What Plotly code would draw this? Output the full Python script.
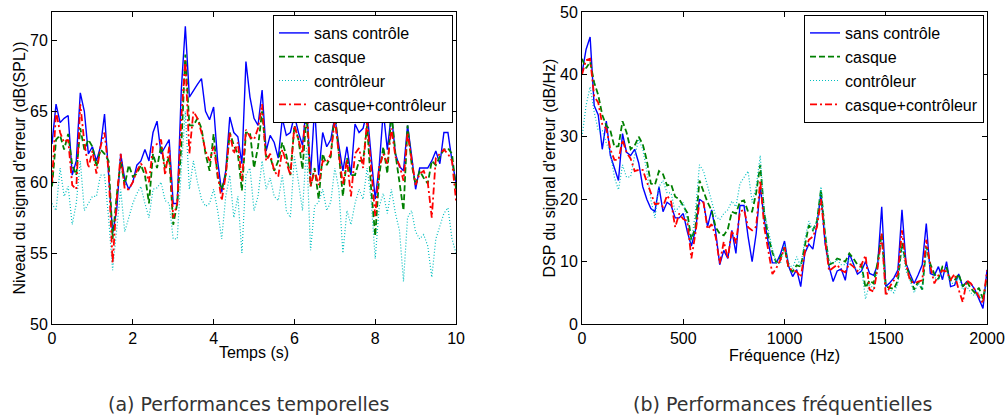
import plotly.graph_objects as go

# Time-domain data (left plot), t = 0..10 s, step 0.1
t = [round(i * 0.1, 1) for i in range(101)]
t_sans = [62.7, 65.5, 64.2, 64.5, 64.7, 60.5, 61.5, 66.3, 65.0, 62.0,
          62.5, 61.5, 62.5, 64.8, 60.6, 56.4, 58.0, 62.0, 60.2, 59.5,
          60.0, 61.2, 61.5, 62.3, 61.5, 63.5, 64.3, 62.0, 62.5, 63.0,
          58.5, 58.5, 66.5, 71.0, 66.0, 66.5, 66.9, 67.3, 65.0, 64.4,
          65.3, 61.5, 59.3, 60.8, 64.6, 63.5, 63.2, 61.3, 68.5, 66.0,
          64.5, 64.0, 66.5, 62.2, 63.3, 62.8, 61.7, 64.5, 63.3, 63.5,
          64.7, 63.5, 62.6, 65.5, 60.5, 65.3, 60.5, 63.5, 62.5, 63.0,
          64.6, 62.6, 60.8, 62.5, 60.5, 64.1, 63.5, 63.8, 65.0, 61.8,
          58.8, 61.2, 65.0, 62.3, 64.8, 62.0, 61.1, 60.8, 64.0, 61.9,
          59.5, 61.0, 61.0, 61.0, 61.5, 62.2, 61.3, 63.5, 63.5, 61.5, 60.0]
t_casque = [59.7, 63.0, 63.3, 62.3, 63.4, 61.2, 60.5, 63.8, 62.3, 63.0,
            62.5, 61.1, 62.3, 62.0, 61.5, 56.0, 59.0, 61.5, 59.8, 61.2,
            60.4, 60.6, 61.2, 60.5, 58.5, 62.0, 61.0, 62.6, 61.0, 61.8,
            57.0, 58.5, 62.5, 69.0, 64.0, 64.0, 64.5, 63.8, 62.0, 60.8,
            63.4, 60.3, 59.5, 60.5, 63.5, 62.6, 62.0, 59.4, 63.5, 63.5,
            61.0, 62.5, 65.0, 61.8, 61.8, 60.8, 61.5, 62.8, 61.9, 60.5,
            64.0, 63.0, 60.9, 64.8, 59.7, 61.0, 58.8, 62.0, 61.2, 61.8,
            65.0, 62.0, 59.0, 61.7, 60.5, 60.5, 61.5, 61.5, 64.0, 59.5,
            56.2, 60.5, 62.5, 60.6, 65.0, 62.0, 60.0, 58.0, 64.0, 61.3,
            59.8, 60.8, 60.3, 59.9, 61.5, 61.2, 61.8, 62.3, 62.4, 62.0, 59.5]
t_ctrl = [58.5, 58.0, 61.0, 59.0, 59.7, 57.0, 58.5, 61.5, 58.0, 58.5,
          59.0, 59.0, 60.5, 60.5, 57.5, 53.8, 56.5, 59.5, 56.5, 57.5,
          58.5, 59.2, 59.7, 58.5, 57.5, 59.5, 59.6, 60.0, 58.7, 58.5,
          56.0, 56.0, 61.0, 65.0, 59.5, 61.5, 60.0, 58.8, 58.3, 58.5,
          59.5, 58.0, 56.0, 59.0, 60.5, 57.5, 59.0, 55.0, 60.5, 61.0,
          58.0, 59.0, 61.5, 59.5, 60.3, 59.0, 58.7, 60.5, 58.0, 57.5,
          61.8, 60.0, 58.0, 62.5, 55.2, 58.3, 58.6, 59.5, 58.0, 58.6,
          61.0, 59.5, 55.0, 58.0, 57.0, 58.5, 59.5, 58.8, 61.0, 58.7,
          54.6, 58.3, 59.2, 57.8, 59.5, 57.8, 56.6, 53.0, 57.5, 58.0,
          56.5, 56.0, 56.3, 55.5, 53.3, 56.0, 56.9, 57.8, 58.2, 56.0, 55.0]
t_both = [60.0, 65.0, 63.5, 62.8, 63.0, 59.8, 59.5, 65.5, 62.8, 61.0,
          62.2, 60.6, 62.5, 63.5, 60.8, 54.3, 58.7, 62.0, 59.5, 59.5,
          60.0, 60.8, 61.3, 61.0, 60.0, 62.5, 62.7, 63.0, 60.5, 62.5,
          57.5, 58.5, 64.5, 68.6, 62.0, 65.0, 64.5, 63.5, 62.2, 61.5,
          62.5, 60.5, 58.7, 60.5, 63.5, 62.0, 62.8, 60.1, 63.7, 63.2,
          63.0, 63.8, 65.5, 61.5, 62.0, 60.8, 60.4, 62.3, 61.4, 60.5,
          64.0, 63.0, 62.0, 66.0, 59.7, 60.8, 59.8, 61.5, 61.4, 62.0,
          64.4, 62.0, 59.8, 61.6, 59.0, 62.0, 62.4, 61.0, 64.4, 61.0,
          57.6, 61.1, 62.0, 61.3, 63.8, 61.8, 61.2, 60.1, 63.5, 61.6,
          59.8, 60.6, 60.8, 60.0, 57.5, 61.7, 62.0, 62.3, 62.0, 61.5, 58.7]

# Frequency-domain data (right plot), f = 0..2000 Hz, step 20
f = [i * 20 for i in range(101)]
f_sans = [40.2, 44.0, 46.0, 35.0, 33.5, 28.0, 32.5, 27.0, 25.0, 23.0,
          30.5, 27.5, 27.0, 28.0, 25.8, 22.0, 20.0, 18.5, 18.0, 22.0,
          18.0, 19.5, 19.0, 17.0, 17.0, 17.7, 14.8, 12.5, 15.0, 20.0,
          19.5, 15.6, 18.3, 14.8, 9.5, 11.8, 10.5, 15.0, 11.3, 19.0,
          19.0, 14.0, 10.0, 14.5, 22.0, 16.7, 13.0, 9.8, 9.8, 11.2,
          13.3, 9.3, 7.6, 8.7, 6.0, 11.3, 12.8, 12.0, 16.0, 20.9,
          13.0, 9.2, 6.8, 8.5, 8.8, 7.0, 11.3, 9.5, 8.0, 8.5,
          10.0, 8.1, 7.8, 9.5, 18.8, 6.0, 6.6, 7.4, 8.7, 18.3,
          9.7, 8.0, 6.5, 7.9, 9.5, 16.1, 8.1, 7.8, 9.2, 7.1,
          10.0, 6.0, 6.2, 8.0, 6.0, 6.8, 6.5, 5.5, 4.0, 2.5, 8.7]
f_casque = [42.5, 41.0, 42.0, 38.7, 36.7, 33.5, 31.8, 31.0, 28.4, 28.5,
            32.5, 30.7, 28.0, 28.6, 30.0, 28.8, 26.2, 22.5, 22.3, 24.5,
            24.0, 22.2, 22.4, 20.4, 20.0, 19.0, 17.8, 13.5, 15.5, 23.0,
            21.3, 19.5, 18.2, 15.5, 14.5, 14.2, 15.2, 18.0, 17.7, 19.6,
            19.8, 18.0, 18.0, 21.0, 25.5, 17.7, 14.0, 11.5, 9.8, 10.7,
            12.3, 9.0, 8.4, 9.4, 9.2, 12.8, 15.8, 15.0, 16.5, 21.5,
            14.5, 9.5, 9.8, 10.5, 10.2, 10.0, 11.3, 10.5, 9.5, 9.5,
            5.8, 7.0, 6.5, 10.0, 14.5, 6.0, 5.8, 5.6, 7.0, 13.0,
            9.5, 7.5, 5.5, 6.8, 5.5, 12.4, 9.6, 8.0, 7.2, 9.2,
            9.0, 7.0, 7.0, 8.0, 6.0, 6.8, 5.7, 5.0, 5.8, 4.0, 7.5]
f_ctrl = [30.0, 35.0, 38.0, 34.0, 31.0, 31.0, 29.0, 27.5, 23.5, 21.5,
          25.5, 23.5, 23.6, 27.0, 29.5, 28.0, 24.5, 19.9, 17.0, 22.0,
          23.0, 21.0, 21.0, 18.0, 18.8, 19.5, 16.5, 13.0, 18.0, 25.5,
          24.5, 22.0, 19.5, 17.3, 16.7, 17.7, 18.3, 19.7, 18.8, 22.5,
          23.5, 24.5, 19.5, 22.0, 27.0, 18.0, 15.0, 12.0, 9.7, 9.7,
          12.8, 9.8, 8.9, 10.8, 9.2, 13.5, 16.5, 15.0, 16.5, 22.0,
          15.0, 10.0, 9.7, 10.3, 9.5, 9.5, 10.3, 9.5, 8.5, 9.0,
          4.0, 6.5, 5.5, 9.0, 13.5, 5.0, 5.5, 5.0, 6.5, 12.5,
          8.5, 7.0, 5.0, 6.5, 5.5, 12.0, 9.0, 7.5, 7.0, 8.5,
          8.5, 6.5, 6.5, 7.5, 5.5, 6.0, 5.0, 4.5, 5.0, 3.5, 7.0]
f_both = [40.0, 42.3, 42.5, 36.5, 35.5, 32.0, 31.3, 28.0, 26.3, 26.3,
          29.5, 27.5, 26.5, 24.5, 24.7, 24.7, 22.8, 21.0, 19.2, 19.3,
          18.8, 20.6, 19.6, 15.5, 17.7, 16.8, 16.5, 10.5, 14.5, 19.5,
          19.5, 15.2, 16.0, 14.0, 9.7, 13.2, 10.5, 15.0, 12.9, 18.0,
          18.3, 15.5, 15.0, 15.6, 23.0, 15.5, 11.5, 8.0, 9.0, 10.3,
          12.3, 9.0, 8.6, 8.4, 7.5, 11.5, 13.5, 14.0, 15.5, 20.0,
          13.5, 8.5, 9.0, 9.5, 8.6, 8.3, 9.7, 9.2, 8.5, 9.5,
          11.0, 5.5, 5.2, 9.0, 14.5, 4.5, 6.0, 7.0, 8.0, 15.0,
          9.5, 7.0, 6.5, 6.8, 7.0, 13.5, 9.2, 6.5, 7.8, 8.6,
          8.4, 7.1, 8.0, 5.5, 3.5, 7.0, 6.5, 5.5, 4.5, 3.3, 8.6]

names = ["sans contrôle", "casque", "contrôleur", "casque+contrôleur"]
colors = ["#0000ff", "#008000", "#00bfbf", "#ff0000"]
dashes = ["solid", "6px,3px", "1px,2px", "7px,3px,2px,3px"]
widths = [1.4, 1.8, 1.2, 1.8]

fig = go.Figure()
for name, ys, c, d, w in zip(names, [t_sans, t_casque, t_ctrl, t_both], colors, dashes, widths):
    fig.add_trace(go.Scatter(x=t, y=ys, name=name, mode="lines",
                             line=dict(color=c, dash=d, width=w),
                             xaxis="x", yaxis="y", legend="legend"))
for name, ys, c, d, w in zip(names, [f_sans, f_casque, f_ctrl, f_both], colors, dashes, widths):
    fig.add_trace(go.Scatter(x=f, y=ys, name=name, mode="lines",
                             line=dict(color=c, dash=d, width=w),
                             xaxis="x2", yaxis="y2", legend="legend2"))

font = dict(family="Liberation Sans, Arial, sans-serif", size=16, color="black")
ax = dict(showgrid=False, zeroline=False, showline=True, linecolor="black", linewidth=1,
          mirror="ticks", ticks="inside", ticklen=5, tickcolor="black", tickfont=font,
          automargin=False)

leg = dict(bgcolor="white", bordercolor="black", borderwidth=1, font=font,
           xanchor="right", yanchor="top", tracegroupgap=0, itemwidth=30)

cap_font = dict(family="DejaVu Sans", size=19, color="#333333")

fig.update_layout(
    width=1008, height=418, margin=dict(l=0, r=0, t=0, b=0, autoexpand=False),
    paper_bgcolor="white", plot_bgcolor="white", font=font,
    xaxis=dict(ax, domain=[0.0516, 0.4524], range=[0, 10], tickvals=[0, 2, 4, 6, 8, 10],
               title=dict(text="Temps (s)", font=font, standoff=0), anchor="y"),
    yaxis=dict(ax, domain=[0.2249, 0.9713], range=[50, 72], tickvals=[50, 55, 60, 65, 70],
               title=dict(text="Niveau du signal d'erreur (dB(SPL))", font=font, standoff=0), anchor="x"),
    xaxis2=dict(ax, domain=[0.5774, 0.9792], range=[0, 2000], tickvals=[0, 500, 1000, 1500, 2000],
                title=dict(text="Fréquence (Hz)", font=font, standoff=0), anchor="y2"),
    yaxis2=dict(ax, domain=[0.2249, 0.9713], range=[0, 50], tickvals=[0, 10, 20, 30, 40, 50],
                title=dict(text="DSP du signal d'erreur (dB/Hz)", font=font, standoff=0), anchor="x2"),
    legend=dict(leg, x=0.4494, y=0.9641),
    legend2=dict(leg, x=0.9762, y=0.9641),
    annotations=[
        dict(text="(a) Performances temporelles", x=0.247, y=1 - 404 / 418, xref="paper", yref="paper",
             xanchor="center", yanchor="middle", showarrow=False, font=cap_font),
        dict(text="(b) Performances fréquentielles", x=0.776, y=1 - 404 / 418, xref="paper", yref="paper",
             xanchor="center", yanchor="middle", showarrow=False, font=cap_font),
    ],
)

fig.write_html("out.html", config={"displayModeBar": False},
               post_script="document.body.style.margin='0px';")
